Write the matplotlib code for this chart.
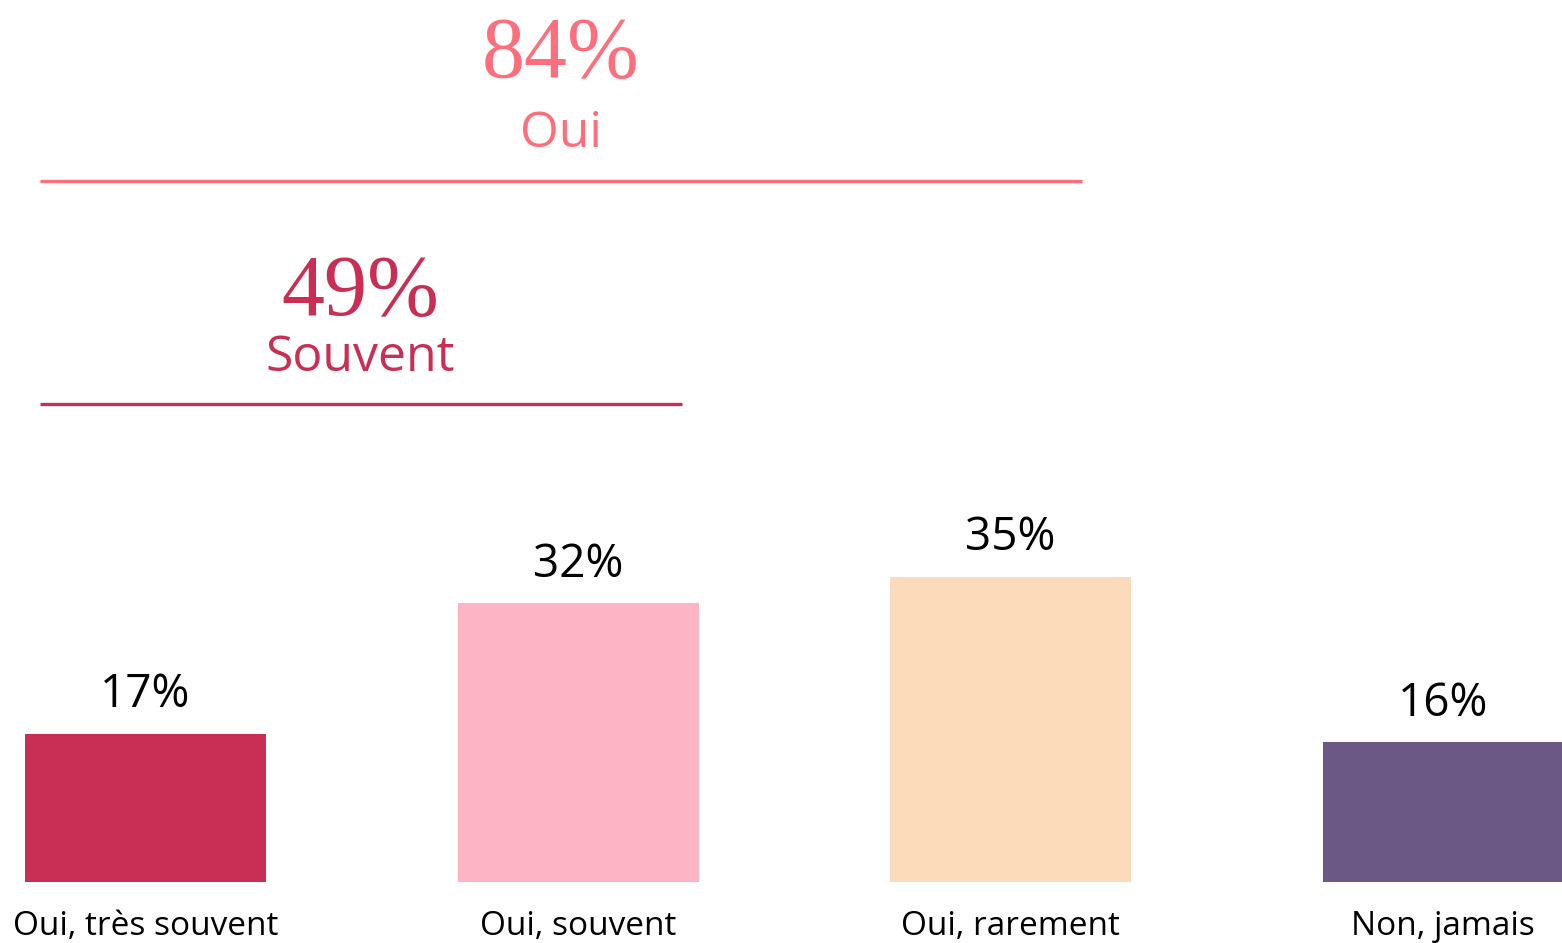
import matplotlib
matplotlib.use("Agg")
import matplotlib.pyplot as plt
from matplotlib.lines import Line2D

categories = ["Oui, très souvent", "Oui, souvent", "Oui, rarement", "Non, jamais"]
values = [17, 32, 35, 16]
bar_colors = ["#C92E55", "#FDB4C5", "#FCDBBB", "#6B5884"]

summary_values = ["84%", "49%"]
summary_labels = ["Oui", "Souvent"]
summary_colors = ["#FE6E7D", "#C92E55"]

W, H = 1562, 943
fig = plt.figure(figsize=(W / 100, H / 100), dpi=100)
fig.patch.set_facecolor("white")

SANS = ["Open Sans", "DejaVu Sans"]
SERIF = ["Liberation Serif", "DejaVu Serif"]

def fx(px):
    return px / W

def fy(py):
    return 1 - py / H

# axes: bottom at pixel row 882, spans full width
ax = fig.add_axes([0, fy(882), 1, fy(0) - fy(882)])
spacing = 432.5
ax.set_xlim(-145.5 / spacing, (W - 145.5) / spacing)
ax.set_ylim(0, 882 / 8.72)
ax.axis("off")

x = list(range(len(categories)))
bars = ax.bar(x, values, width=241 / spacing, color=bar_colors, clip_on=False)
for xi, v, cat in zip(x, values, categories):
    ax.annotate(f"{v}%", xy=(xi, v), xytext=(0, 19), textcoords="offset points",
                ha="center", va="baseline", fontsize=33, color="black", family=SANS)
    ax.annotate(cat, xy=(xi, 0), xytext=(0, -38), textcoords="offset points",
                ha="center", va="baseline", fontsize=24, color="black", family=SANS)

# summary blocks
blocks = [
    dict(cx=561, num_y=77, lab_y=147, line_y=181, x0=40, x1=1082),
    dict(cx=360, num_y=315, lab_y=371, line_y=404, x0=40, x1=682),
]
for b, val, lab, col in zip(blocks, summary_values, summary_labels, summary_colors):
    fig.text(fx(b["cx"]), fy(b["num_y"]), val, ha="center", va="baseline",
             fontsize=62, color=col, family=SERIF)
    fig.text(fx(b["cx"]), fy(b["lab_y"]), lab, ha="center", va="baseline",
             fontsize=36, color=col, family=SANS)
    fig.add_artist(Line2D([fx(b["x0"]), fx(b["x1"])], [fy(b["line_y"])] * 2,
                          transform=fig.transFigure, color=col, linewidth=2.4,
                          solid_capstyle="butt"))

fig.savefig("out.png", dpi=100, facecolor="white")
